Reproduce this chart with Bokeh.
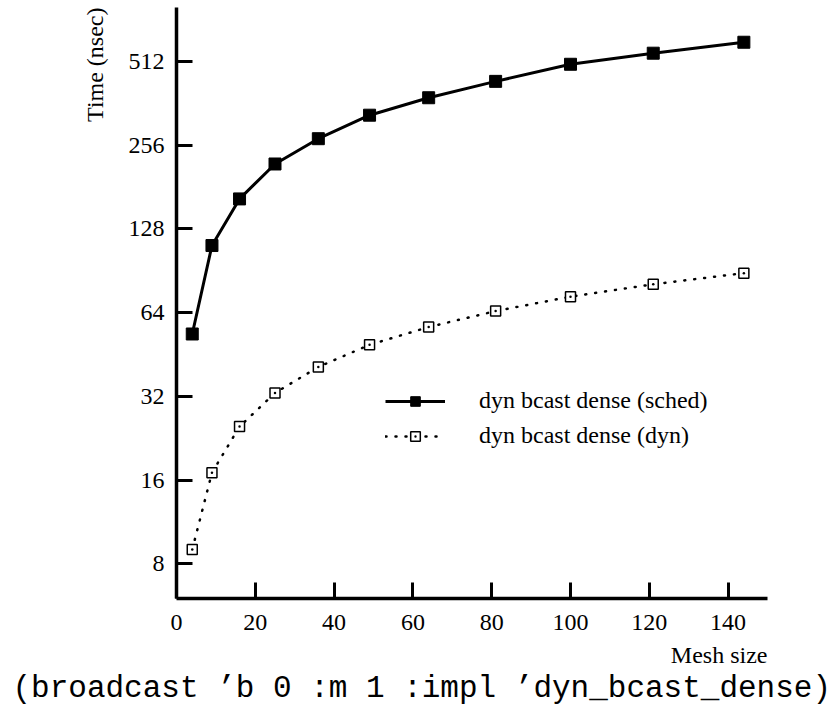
import math
from bokeh.plotting import figure
from bokeh.models import (Range1d, FixedTicker, PrintfTickFormatter, Legend,
                          LegendItem, Title)
from bokeh.embed import file_html
from bokeh.resources import INLINE

# ---- data ----
mesh_size = [4, 9, 16, 25, 36, 49, 64, 81, 100, 121, 144]
time_sched = [53.6, 111.5, 164, 219, 270, 328, 379, 434, 500, 548, 600]
time_dyn = [9.0, 17.0, 24.9, 32.9, 40.8, 49.0, 56.8, 64.8, 73.0, 80.9, 88.7]
y_ticks = [8, 16, 32, 64, 128, 256, 512]
x_ticks = [0, 20, 40, 60, 80, 100, 120, 140]
series_names = ["dyn bcast dense (sched)", "dyn bcast dense (dyn)"]
x_title = "Mesh size"
y_title = "Time (nsec)"
caption = "(broadcast \u2019b 0 :m 1 :impl \u2019dyn_bcast_dense)"

SERIF = "Liberation Serif"
MONO = "Liberation Mono"

p = figure(width=835, height=705, output_backend="svg", toolbar_location=None,
           y_axis_type="log", x_range=Range1d(0, 150), y_range=Range1d(6, 800),
           min_border_left=176, min_border_right=68, min_border_top=7,
           min_border_bottom=107, title=None)
p.outline_line_color = None
p.xgrid.grid_line_color = None
p.ygrid.grid_line_color = None
p.background_fill_color = "white"
p.border_fill_color = "white"

p.xaxis.ticker = FixedTicker(ticks=x_ticks)
p.yaxis.ticker = FixedTicker(ticks=y_ticks)
p.yaxis.formatter = PrintfTickFormatter(format="%d")
for ax in (p.xaxis[0], p.yaxis[0]):
    ax.axis_line_width = 3.5
    ax.axis_line_color = "black"
    ax.major_tick_line_width = 3
    ax.major_tick_line_color = "black"
    ax.major_tick_in = 16
    ax.major_tick_out = 0
    ax.minor_tick_line_color = None
    ax.major_label_text_font = SERIF
    ax.major_label_text_font_size = "24px"
    ax.major_label_text_color = "black"
p.xaxis.major_label_standoff = 16
p.yaxis.major_label_standoff = 12

l1 = p.line(mesh_size, time_sched, line_color="black", line_width=3)
s1 = p.scatter(mesh_size, time_sched, marker="square", size=12,
               fill_color="black", line_color="black")
l2 = p.line(mesh_size, time_dyn, line_color="black", line_width=2.5,
            line_dash="1 9", line_cap="round")
s2 = p.scatter(mesh_size, time_dyn, marker="square_dot", size=10,
               fill_color="white", line_color="black", line_width=1.5)

legend = Legend(items=[LegendItem(label=series_names[0], renderers=[l1, s1]),
                       LegendItem(label=series_names[1], renderers=[l2, s2])],
                location=(209, 149), glyph_width=60, glyph_height=24,
                label_height=24, spacing=8, padding=0, margin=0,
                border_line_color=None, background_fill_alpha=0,
                label_standoff=34, label_text_font=SERIF,
                label_text_font_size="24px", label_text_color="black")
p.add_layout(legend)

p.add_layout(Title(text=y_title, align="right", text_font=SERIF,
                   text_font_size="24px", text_font_style="normal",
                   text_color="black", standoff=36), "left")
p.add_layout(Title(text=x_title, align="right", text_font=SERIF,
                   text_font_size="24px", text_font_style="normal",
                   text_color="black", standoff=14), "below")
p.add_layout(Title(text=caption, align="left", offset=-164, text_font=MONO,
                   text_font_size="31px", text_font_style="normal",
                   text_color="black", standoff=-11), "below")

open("out.html", "w").write(file_html(p, INLINE))
